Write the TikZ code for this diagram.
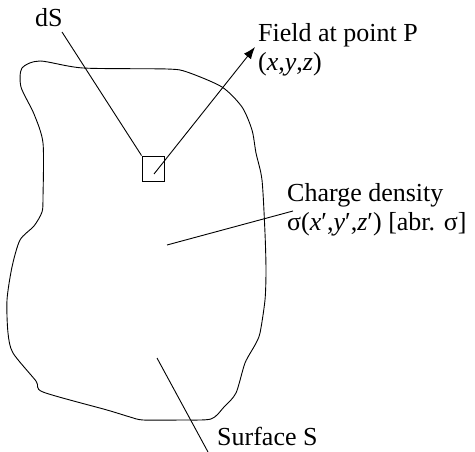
\documentclass[tikz,border=0pt]{standalone}
\usepackage{fontspec}
\setmainfont{Liberation Serif}
\usetikzlibrary{arrows.meta}
\begin{document}
\begin{tikzpicture}[x=1pt,y=-1pt,
  lbl/.style={inner sep=0pt,anchor=base west,font=\fontsize{26}{30}\selectfont},
  ln/.style={line width=0.9pt,black},
  sqbox/.style={draw,line width=0.9pt,minimum width=22pt,minimum height=25pt,inner sep=0pt}]
\useasboundingbox (0,0) rectangle (475,452);
% surface outline
\draw[ln,line join=round] plot[smooth cycle,tension=0.45] coordinates {
 (22,68) (40,61) (83,68) (167,69) (187,72) (222,87) (242,107) (252,130)
 (256,153) (262,180) (265,233) (266,270) (265,300) (260,333) (255,345)
 (245,363) (236,393) (224,407) (211,419) (180,420) (143,420) (130,417)
 (107,410) (43,392) (36,381) (13,353) (8,333) (7,300) (12,267) (20,240)
 (34,226) (42,212) (43,197) (43,143) (34,114) (21,87)};
% small area element
\node[sqbox] (sq) at (153,168.5) {};
% labels
\node[lbl] (ds) at (35,27) {dS};
\node[lbl] (field) at (258,42) {Field at point P};
\node[lbl] (fieldxyz) at (258,71) {(\textit{x},\textit{y},\textit{z})};
\node[lbl] (charge) at (287,202) {Charge density};
\node[lbl] (chargeexpr) at (287,231) {σ(\textit{x}′,\textit{y}′,\textit{z}′) [abr. σ]};
\node[lbl] (surf) at (217,446) {Surface S};
% connector endpoints
\coordinate (dsend) at (62,32);
\coordinate (arrstart) at (154,174);
\coordinate (arrtip) at (255,47);
\coordinate (chA) at (293,211);
\coordinate (chB) at (167,245);
\coordinate (sfA) at (157,358);
\coordinate (sfB) at (208,452);
% connectors
\draw[ln] (dsend) -- (sq.north west);
\draw[ln,-{Latex[length=12pt,width=9pt]}] (arrstart) -- (arrtip);
\draw[ln] (chA) -- (chB);
\draw[ln] (sfA) -- (sfB);
\end{tikzpicture}
\end{document}
